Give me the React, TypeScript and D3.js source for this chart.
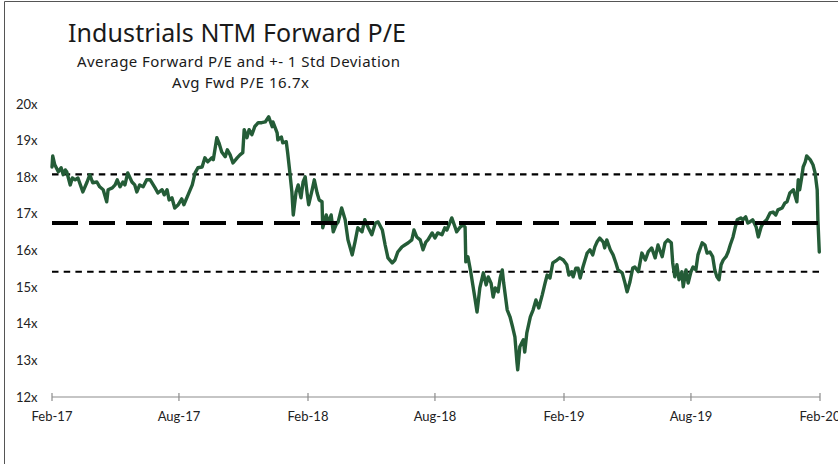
import React from "react";
import * as d3 from "d3";

const titleText = "Industrials NTM Forward P/E";
const subtitleText = "Average Forward P/E and +- 1 Std Deviation";
const avgText = "Avg Fwd P/E 16.7x";

const avgPE = 16.75;
const stdDev = 1.33;

const yTicks = [12, 13, 14, 15, 16, 17, 18, 19, 20];
const xTickDates = ["2017-02-01", "2017-08-01", "2018-02-01", "2018-08-01", "2019-02-01", "2019-08-01", "2020-02-01"];
const xTickLabels = ["Feb-17", "Aug-17", "Feb-18", "Aug-18", "Feb-19", "Aug-19", "Feb-20"];

const dates = [
  "2017-02-01","2017-02-02","2017-02-05","2017-02-10","2017-02-14","2017-02-17","2017-02-20","2017-02-22","2017-02-27","2017-03-02",
  "2017-03-06","2017-03-10","2017-03-17","2017-03-23","2017-03-27","2017-03-31","2017-04-06","2017-04-10","2017-04-15","2017-04-20",
  "2017-04-22","2017-04-28","2017-05-02","2017-05-05","2017-05-09","2017-05-13","2017-05-16","2017-05-20","2017-05-26","2017-05-30",
  "2017-06-02","2017-06-06","2017-06-11","2017-06-16","2017-06-21","2017-06-28","2017-07-02","2017-07-08","2017-07-11","2017-07-15",
  "2017-07-18","2017-07-22","2017-07-26","2017-07-31","2017-08-05","2017-08-08","2017-08-14","2017-08-20","2017-08-24","2017-08-28",
  "2017-09-03","2017-09-07","2017-09-11","2017-09-17","2017-09-19","2017-09-24","2017-09-27","2017-10-01","2017-10-06","2017-10-09",
  "2017-10-13","2017-10-17","2017-10-23","2017-10-27","2017-10-31","2017-11-02","2017-11-06","2017-11-09","2017-11-13","2017-11-17",
  "2017-11-22","2017-11-27","2017-12-02","2017-12-07","2017-12-12","2017-12-13","2017-12-19","2017-12-20","2017-12-25","2017-12-27",
  "2018-01-01","2018-01-03","2018-01-06","2018-01-09","2018-01-11","2018-01-15","2018-01-18","2018-01-22","2018-01-25","2018-01-28",
  "2018-01-31","2018-02-02","2018-02-07","2018-02-10","2018-02-14","2018-02-17","2018-02-21","2018-02-22","2018-02-27","2018-03-02",
  "2018-03-06","2018-03-09","2018-03-13","2018-03-16","2018-03-21","2018-03-26","2018-03-30","2018-04-05","2018-04-09","2018-04-13",
  "2018-04-19","2018-04-23","2018-04-28","2018-05-03","2018-05-08","2018-05-12","2018-05-18","2018-05-22","2018-05-26","2018-06-01",
  "2018-06-05","2018-06-09","2018-06-15","2018-06-19","2018-06-24","2018-06-29","2018-07-02","2018-07-06","2018-07-11","2018-07-15",
  "2018-07-19","2018-07-22","2018-07-28","2018-08-01","2018-08-05","2018-08-11","2018-08-15","2018-08-18","2018-08-22","2018-08-25",
  "2018-08-30","2018-09-01","2018-09-06","2018-09-10","2018-09-13","2018-09-14","2018-09-17","2018-09-21","2018-09-24","2018-09-27",
  "2018-09-30","2018-10-04","2018-10-09","2018-10-13","2018-10-16","2018-10-20","2018-10-23","2018-10-26","2018-10-30","2018-11-02",
  "2018-11-05","2018-11-07","2018-11-12","2018-11-16","2018-11-20","2018-11-23","2018-11-26","2018-11-27","2018-11-30","2018-12-05",
  "2018-12-07","2018-12-10","2018-12-15","2018-12-19","2018-12-23","2018-12-27","2019-01-01","2019-01-05","2019-01-08","2019-01-12",
  "2019-01-16","2019-01-22","2019-01-26","2019-01-31","2019-02-05","2019-02-08","2019-02-12","2019-02-14","2019-02-18","2019-02-21",
  "2019-02-24","2019-02-28","2019-03-06","2019-03-10","2019-03-14","2019-03-17","2019-03-20","2019-03-24","2019-03-29","2019-03-31",
  "2019-04-03","2019-04-08","2019-04-12","2019-04-16","2019-04-19","2019-04-25","2019-04-29","2019-05-02","2019-05-06","2019-05-10",
  "2019-05-13","2019-05-18","2019-05-23","2019-05-28","2019-06-01","2019-06-06","2019-06-11","2019-06-15","2019-06-21","2019-06-25",
  "2019-06-29","2019-07-04","2019-07-06","2019-07-09","2019-07-12","2019-07-15","2019-07-19","2019-07-21","2019-07-25","2019-07-28",
  "2019-08-01","2019-08-04","2019-08-08","2019-08-11","2019-08-17","2019-08-21","2019-08-24","2019-08-28","2019-09-01","2019-09-04",
  "2019-09-07","2019-09-10","2019-09-13","2019-09-16","2019-09-20","2019-09-23","2019-09-26","2019-09-30","2019-10-03","2019-10-06",
  "2019-10-11","2019-10-14","2019-10-18","2019-10-21","2019-10-24","2019-10-28","2019-11-02","2019-11-05","2019-11-09","2019-11-12",
  "2019-11-17","2019-11-22","2019-11-26","2019-11-30","2019-12-03","2019-12-09","2019-12-13","2019-12-16","2019-12-20","2019-12-25",
  "2019-12-27","2019-12-30","2020-01-01","2020-01-03","2020-01-06","2020-01-08","2020-01-11","2020-01-13","2020-01-18","2020-01-22",
  "2020-01-25","2020-01-28","2020-01-29","2020-01-31"
];

const forwardPE = [
  18.28,18.58,18.34,18.15,18.26,18.07,18.20,18.15,17.79,17.98,
  17.93,17.98,17.60,17.87,18.07,17.85,17.87,17.74,17.66,17.33,
  17.66,17.71,17.79,17.93,17.74,17.87,17.79,18.12,17.87,17.79,
  17.60,17.79,17.74,17.93,17.93,17.71,17.57,17.66,17.52,17.66,
  17.38,17.44,17.16,17.25,17.41,17.25,17.52,17.79,18.12,18.26,
  18.28,18.53,18.42,18.53,18.48,19.08,18.94,18.69,18.56,18.75,
  18.61,18.39,18.53,18.61,18.67,19.30,19.08,19.30,19.16,19.38,
  19.49,19.49,19.51,19.65,19.38,19.51,19.21,19.02,19.10,18.94,
  18.97,18.67,18.15,17.60,16.97,17.60,17.79,17.44,17.87,18.01,
  17.52,17.25,17.66,17.93,17.57,17.38,17.33,16.62,16.97,16.75,
  16.97,16.51,16.70,16.78,17.16,16.84,16.29,15.88,16.23,16.62,
  16.51,16.84,16.62,16.43,16.75,16.78,16.56,16.15,15.80,15.66,
  15.74,15.96,16.10,16.15,16.21,16.29,16.56,16.37,16.29,16.02,
  16.23,16.29,16.48,16.34,16.48,16.43,16.62,16.56,16.75,16.89,
  16.62,16.51,16.64,16.70,16.64,15.69,15.83,15.42,15.06,14.70,
  14.32,14.98,15.39,15.06,15.28,15.11,14.73,14.98,14.87,15.25,
  15.47,15.11,14.38,14.19,13.89,13.64,12.93,12.74,13.37,13.56,
  13.23,13.75,14.19,14.38,14.65,14.43,14.79,15.11,15.33,15.25,
  15.66,15.74,15.80,15.74,15.61,15.33,15.42,15.28,15.52,15.52,
  15.25,15.55,15.93,16.02,15.88,16.10,16.23,16.34,16.23,16.07,
  16.29,16.02,15.88,15.66,15.47,15.39,15.11,14.87,15.14,15.52,
  15.55,15.42,15.93,15.74,15.96,16.07,15.80,16.15,15.83,16.21,
  16.29,16.21,15.66,15.28,15.61,15.20,15.42,15.01,15.47,15.11,
  15.42,15.55,15.47,15.88,16.21,16.15,15.93,15.96,15.83,15.47,
  15.28,15.20,15.61,15.74,15.83,15.96,16.15,16.37,16.62,16.84,
  16.89,16.84,16.92,16.75,16.78,16.84,16.64,16.37,16.64,16.75,
  16.84,17.03,17.05,16.97,17.11,17.16,17.30,17.33,17.57,17.66,
  17.52,17.33,17.93,17.66,18.01,18.28,18.42,18.58,18.48,18.34,
  18.12,17.66,16.84,15.96
];

const W = 838;
const H = 464;

export default function App() {
  const parse = d3.utcParse("%Y-%m-%d");
  const data = dates.map((d, i) => ({ date: parse(d) as Date, value: forwardPE[i] }));

  const x = d3
    .scaleUtc()
    .domain([parse(xTickDates[0]) as Date, parse(xTickDates[xTickDates.length - 1]) as Date])
    .range([52, 820]);
  const y = d3.scaleLinear().domain([12, 20]).range([397, 104]);

  const line = d3
    .line<{ date: Date; value: number }>()
    .x((d) => x(d.date))
    .y((d) => y(d.value));

  const [x0, x1] = x.range();
  const labelFont = "Lato, 'Open Sans', sans-serif";
  const titleFont = "'Noto Sans', Lato, sans-serif";

  return (
    <svg
      width={W}
      height={H}
      style={{ position: "absolute", left: 0, top: 0, background: "#fff" }}
    >
      <rect x={0} y={0} width={W} height={H} fill="#fff" />
      {/* frame */}
      <line x1={4.5} y1={1.5} x2={4.5} y2={H} stroke="#555" strokeWidth={1} />
      <line x1={4.5} y1={1.5} x2={W} y2={1.5} stroke="#555" strokeWidth={1} />

      {/* titles */}
      <text x={237} y={42} textAnchor="middle" fontFamily={titleFont} fontSize={25}
        textLength={338} lengthAdjust="spacing" fill="#1a1a1a">
        {titleText}
      </text>
      <text x={238.5} y={67} textAnchor="middle" fontFamily={titleFont} fontSize={15}
        textLength={323} lengthAdjust="spacing" fill="#1a1a1a">
        {subtitleText}
      </text>
      <text x={240.5} y={88} textAnchor="middle" fontFamily={titleFont} fontSize={15}
        textLength={137} lengthAdjust="spacing" fill="#1a1a1a">
        {avgText}
      </text>

      {/* y labels */}
      {yTicks.map((t) => (
        <text
          key={t}
          x={16}
          y={y(t)}
          dy="0.35em"
          fontFamily={labelFont}
          fontSize={13}
          fill="#222"
        >
          {t}x
        </text>
      ))}

      {/* x axis */}
      <line x1={x0} y1={y(12)} x2={x1} y2={y(12)} stroke="#8c8c8c" strokeWidth={1.2} />
      {xTickDates.map((d, i) => {
        const xx = x(parse(d) as Date);
        return (
          <g key={d}>
            <line x1={xx} y1={y(12) - 4} x2={xx} y2={y(12) + 4} stroke="#8c8c8c" strokeWidth={1.2} />
            <text
              x={xx}
              y={421}
              textAnchor="middle"
              fontFamily={labelFont}
              fontSize={13}
              fill="#222"
            >
              {xTickLabels[i]}
            </text>
          </g>
        );
      })}

      {/* std dev lines */}
      <line
        x1={x0}
        y1={y(avgPE + stdDev)}
        x2={x1}
        y2={y(avgPE + stdDev)}
        stroke="#000"
        strokeWidth={2.2}
        strokeDasharray="6.5,5.2"
      />
      <line
        x1={x0}
        y1={y(avgPE - stdDev)}
        x2={x1}
        y2={y(avgPE - stdDev)}
        stroke="#000"
        strokeWidth={2.2}
        strokeDasharray="6.5,5.2"
      />

      {/* data line */}
      <path
        d={line(data) || ""}
        fill="none"
        stroke="#245c37"
        strokeWidth={3.4}
        strokeLinejoin="round"
        strokeLinecap="round"
      />

      {/* average line */}
      <line
        x1={x0}
        y1={y(avgPE)}
        x2={x1}
        y2={y(avgPE)}
        stroke="#000"
        strokeWidth={4}
        strokeDasharray="26,11"
      />
    </svg>
  );
}
